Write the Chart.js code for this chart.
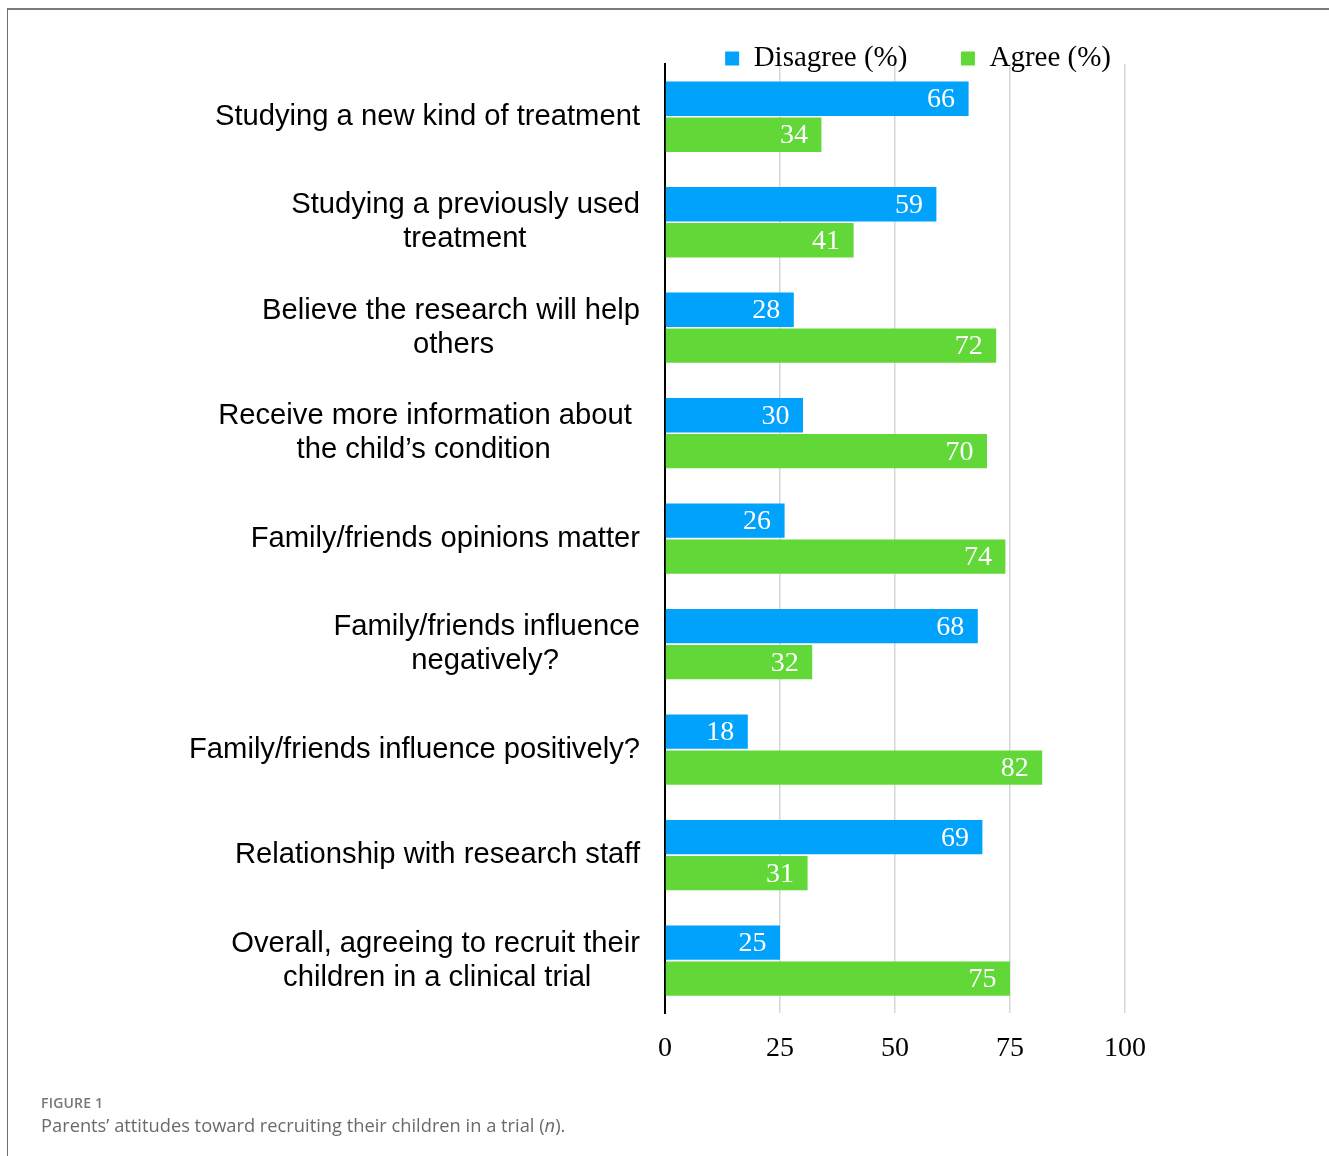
<!DOCTYPE html>
<html><head><meta charset="utf-8">
<script src="https://cdn.jsdelivr.net/npm/chart.js@4.4.1/dist/chart.umd.min.js"></script>
<style>
html,body{margin:0;padding:0;background:#fff;}
body{width:1329px;height:1156px;position:relative;overflow:hidden;}
#frame{position:absolute;left:7px;top:8px;right:0;bottom:0;border-top:2px solid #7c7c7c;border-left:1px solid #6e6e6e;}
#wrap{position:absolute;left:0;top:0;width:1329px;height:1100px;}
#cap1{position:absolute;left:41px;top:1093px;font:600 14px "Open Sans",sans-serif;color:#777;letter-spacing:0.2px;}
#cap2{position:absolute;left:41px;top:1112px;font:18.3px "Open Sans",sans-serif;color:#6a6a6a;}
</style>
</head><body>
<div id="frame"></div>
<div id="wrap"><canvas id="c" width="1329" height="1100"></canvas></div>
<div id="cap1">FIGURE 1</div>
<div id="cap2">Parents’ attitudes toward recruiting their children in a trial (<i>n</i>).</div>
<script>
const categories = [
  ["Studying a new kind of treatment"],
  ["Studying a previously used", "treatment"],
  ["Believe the research will help", "others"],
  ["Receive more information about ", "the child’s condition"],
  ["Family/friends opinions matter"],
  ["Family/friends influence", "negatively?"],
  ["Family/friends influence positively?"],
  ["Relationship with research staff"],
  ["Overall, agreeing to recruit their", "children in a clinical trial"]
];
const disagree = [66, 59, 28, 30, 26, 68, 18, 69, 25];
const agree = [34, 41, 72, 70, 74, 32, 82, 31, 75];
const xTicks = [0, 25, 50, 75, 100];
const seriesNames = ["Disagree (%)", "Agree (%)"];

const LABEL_FONT = '29.2px "Liberation Sans"';
function centerLines(lines) {
  const c = document.createElement('canvas').getContext('2d');
  c.font = LABEL_FONT;
  const sp = c.measureText(' ').width;
  const widths = lines.map(l => c.measureText(l.trimEnd()).width);
  const trailing = lines.map((l, i) => c.measureText(l).width - widths[i]);
  const maxW = Math.max(...widths);
  const iMax = widths.indexOf(maxW);
  const rightOff = trailing[iMax];
  return lines.map((l, i) => i === iMax ? l :
    l.trimEnd() + ' '.repeat(Math.max(0, Math.round((rightOff + (maxW - widths[i]) / 2) / sp))));
}
const labels = categories.map(centerLines);

const valueLabels = {
  id: 'valueLabels',
  afterDatasetsDraw(chart) {
    const ctx = chart.ctx;
    ctx.save();
    ctx.font = '28px "Liberation Serif"';
    ctx.fillStyle = '#ffffff';
    ctx.textAlign = 'right';
    ctx.textBaseline = 'middle';
    chart.data.datasets.forEach((ds, i) => {
      chart.getDatasetMeta(i).data.forEach((bar, j) => {
        ctx.fillText(String(ds.data[j]), bar.x - 13.5, bar.y + 1);
      });
    });
    ctx.restore();
  }
};
const legendShift = {
  id: 'legendShift',
  afterLayout(chart) {
    const lg = chart.legend;
    if (lg) { lg.top += 19; lg.bottom += 19; lg.left -= 4; lg.right -= 4; }
  }
};

new Chart(document.getElementById('c'), {
  type: 'bar',
  data: {
    labels: labels,
    datasets: [
      { label: seriesNames[0] + '      ', data: disagree, backgroundColor: '#00a2fb', borderWidth: 0,
        categoryPercentage: 0.682, barPercentage: 0.954 },
      { label: seriesNames[1], data: agree, backgroundColor: '#62d838', borderWidth: 0,
        categoryPercentage: 0.682, barPercentage: 0.954 }
    ]
  },
  options: {
    indexAxis: 'y',
    responsive: false,
    animation: false,
    layout: { padding: { left: 0, right: 204, top: 15, bottom: 17 } },
    plugins: {
      legend: {
        position: 'top',
        align: 'end',
        labels: {
          font: { family: '"Liberation Serif"', size: 29 },
          color: '#000',
          boxWidth: 14,
          boxHeight: 14,
          padding: 10
        }
      },
      tooltip: { enabled: false }
    },
    scales: {
      x: {
        min: 0, max: 100,
        afterBuildTicks(scale) { scale.ticks = xTicks.map(v => ({ value: v })); },
        grid: { color: '#d6d6d6', lineWidth: 1.5, drawTicks: false },
        border: { display: false },
        ticks: { font: { family: '"Liberation Serif"', size: 28 }, color: '#000', padding: 18, maxRotation: 0 }
      },
      y: {
        afterFit(scale) { scale.width = 665; },
        grid: { display: false, drawTicks: false },
        border: { display: true, color: '#000', width: 2 },
        ticks: { font: { family: '"Liberation Sans"', size: 29.2, lineHeight: 1.17 }, color: '#000', padding: 25, crossAlign: 'near', autoSkip: false }
      }
    }
  },
  plugins: [valueLabels, legendShift]
});
</script>
</body></html>
